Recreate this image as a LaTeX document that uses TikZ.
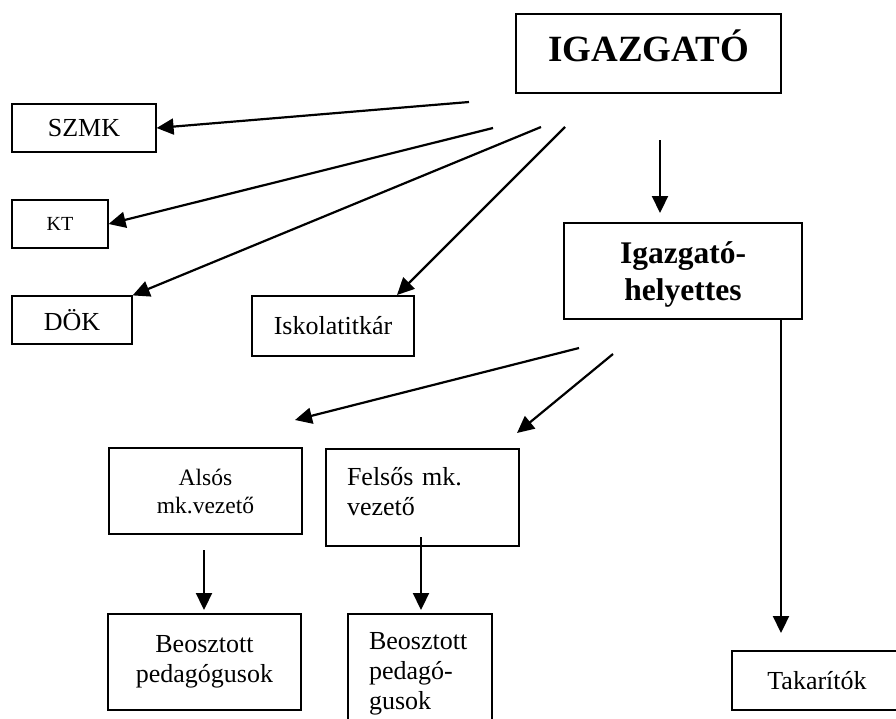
\documentclass[tikz,border=0pt]{standalone}
\usepackage{fontspec}
\setmainfont{Liberation Serif}
\usetikzlibrary{arrows.meta,positioning}
\tikzset{
  box/.style={draw,line width=1.2pt,inner sep=0pt,align=center,font=\fontsize{26}{30}\selectfont},
  leftbox/.style={box,align=left,inner xsep=21pt},
  arr/.style={line width=2.2pt,-{Triangle[length=17pt,width=16pt]}},
}
\begin{document}
\begin{tikzpicture}[x=1pt,y=-1pt]
\clip (0,0) rectangle (896,718);
% top
\node[box,minimum width=265pt,minimum height=79pt,font=\bfseries\fontsize{37}{40}\selectfont,text depth=16pt] (igaz) at (648.5,53.5) {IGAZGATÓ};
\node[box,minimum width=238pt,minimum height=96pt,font=\bfseries\fontsize{31.5}{37}\selectfont,text depth=0pt] (hely) at (683,271) {Igazgató-\\helyettes};
% left column
\node[box,minimum width=144pt,minimum height=48pt] (szmk) at (84,128) {SZMK};
\node[box,minimum width=96pt,minimum height=48pt,font=\fontsize{20}{24}\selectfont] (kt) at (60,224) {KT};
\node[box,minimum width=120pt,minimum height=48pt] (dok) at (72,320) {DÖK};
\node[box,minimum width=162pt,minimum height=60pt] (iskola) at (333,326) {Iskolatitkár};
% lower part
\node[box,minimum width=193pt,minimum height=86pt,font=\fontsize{23.5}{28}\selectfont] (also) at (205.5,491) {Alsós\\mk.vezető};
\node[leftbox,minimum width=193pt,minimum height=97pt,text width=151pt,text depth=43pt] (felso) at (422.5,497.5) {Felsős mk.\\vezető};
\node[box,minimum width=193pt,minimum height=96pt] (beo1) at (204.5,662) {Beosztott\\pedagógusok};
\node[leftbox,minimum width=144pt,minimum height=120pt,text width=102pt] (beo2) at (420,674) {Beosztott\\pedagó-\\gusok};
\node[box,minimum width=170pt,minimum height=59pt] (tak) at (817,680.5) {Takarítók};

% free ends
\coordinate (igA) at (469,102);
\coordinate (igB) at (493,128);
\coordinate (igC) at (541,127);
\coordinate (igD) at (565,127);
\coordinate (isk) at (397,295);
\coordinate (igE) at (660,140);
\coordinate (hlE) at (660,213);
\coordinate (hlA) at (579,348);
\coordinate (alA) at (295,420);
\coordinate (hlB) at (613,354);
\coordinate (feA) at (517,433);
\coordinate (hlC) at (781,319);
\coordinate (taA) at (781,633);
\coordinate (alB) at (204,550);
\coordinate (b1A) at (204,610);
\coordinate (feB) at (421,537);
\coordinate (b2A) at (421,610);

\draw[arr] (igA) -- (szmk.east);
\draw[arr] (igB) -- (kt.east);
\draw[arr] (igC) -- (dok.north east);
\draw[arr] (igD) -- (isk);
\draw[arr] (igE) -- (hlE);
\draw[arr] (hlA) -- (alA);
\draw[arr] (hlB) -- (feA);
\draw[arr] (hlC) -- (taA);
\draw[arr] (alB) -- (b1A);
\draw[arr] (feB) -- (b2A);
\end{tikzpicture}
\end{document}
